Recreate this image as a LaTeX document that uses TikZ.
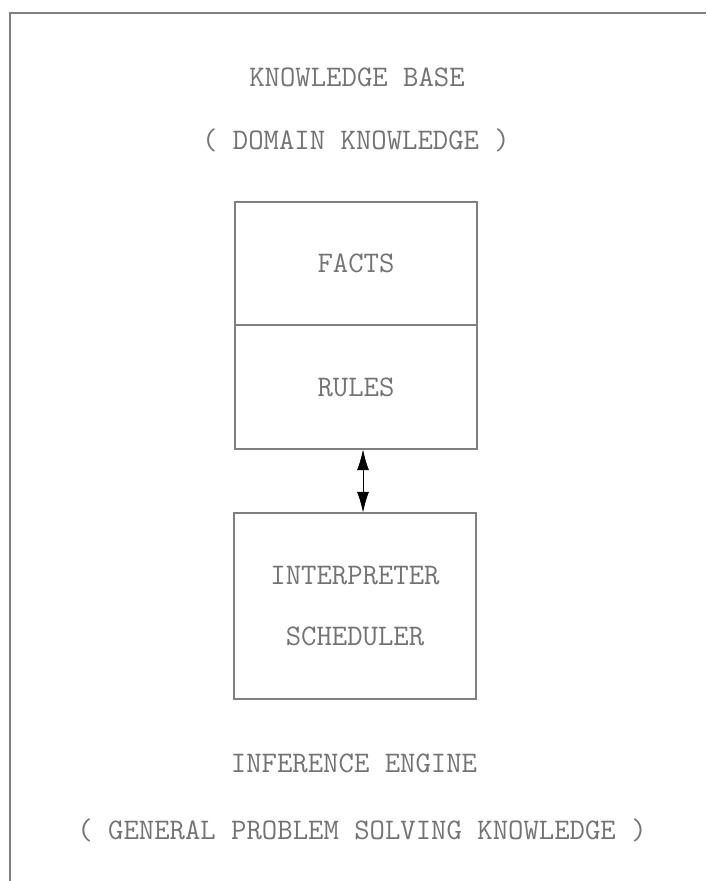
\documentclass[tikz,border=0pt]{standalone}
\usepackage{xcolor}
\usepackage{tikz}
\usetikzlibrary{arrows.meta}

\begin{document}
\begin{tikzpicture}[x=0.03cm,y=-0.03cm,
        txt/.style={text=black!55,font=\ttfamily\fontsize{25.5}{30}\selectfont,inner sep=0pt},
        box/.style={txt,draw=black!50,line width=0.9pt,minimum width=7.26cm,anchor=center},
        link/.style={{Latex[length=0.62cm,width=0.36cm]}-{Latex[length=0.62cm,width=0.36cm]},line width=0.6pt}]
        \useasboundingbox (0,0) rectangle (706,881);
        %画外框
        \draw[black!50,line width=1.2pt] (10,881) -- (10,13) -- (706,13);
        %标题
        \node[txt] (kb) at (357,77) {KNOWLEDGE BASE};
        \node[txt] (dk) at (356,140) {( DOMAIN KNOWLEDGE )};
        %知识库的两个框
        \node[box,minimum height=3.69cm] (facts) at (356,263.5) {FACTS};
        \node[box,minimum height=3.72cm] (rules) at (356,387) {RULES};
        %推理机
        \node[box,minimum height=5.58cm,align=center] (interp) at (355,606)
                {INTERPRETER\\[22pt]SCHEDULER};
        \draw[link] ([xshift=0.21cm]rules.south) -- ([xshift=0.24cm]interp.north);
        %底部文字
        \node[txt] (ie) at (354,763) {INFERENCE ENGINE};
        \node[txt] (gk) at (362,830) {( GENERAL PROBLEM SOLVING KNOWLEDGE )};
\end{tikzpicture}
\end{document}
